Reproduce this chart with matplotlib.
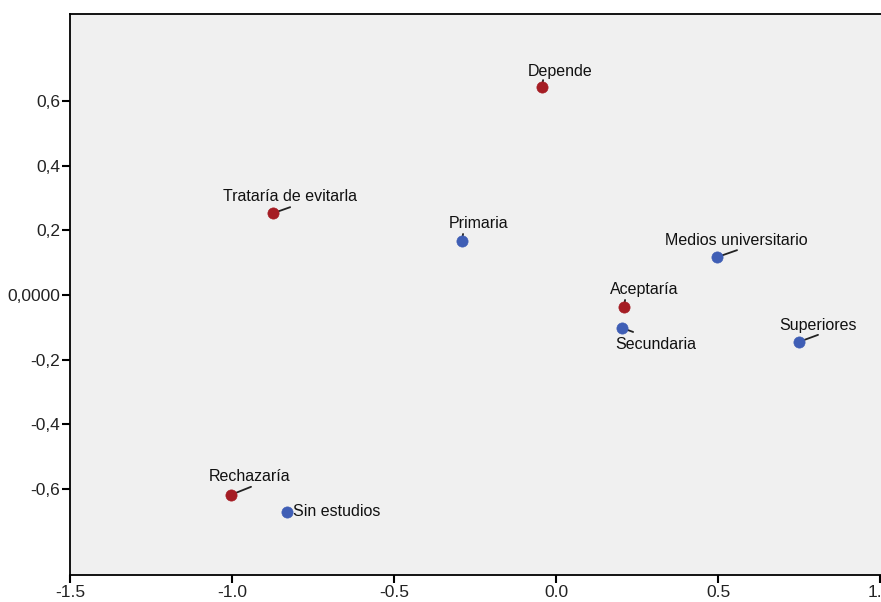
import matplotlib
matplotlib.use("Agg")
import matplotlib.pyplot as plt

plt.rcParams['font.family'] = ['Liberation Sans', 'DejaVu Sans']

# row points (actitud) - red
row_labels = ['Depende', 'Trataría de evitarla', 'Aceptaría', 'Rechazaría']
row_x = [-0.043, -0.873, 0.210, -1.003]
row_y = [0.643, 0.253, -0.037, -0.618]

# column points (estudios) - blue
col_labels = ['Primaria', 'Medios universitario', 'Secundaria', 'Superiores', 'Sin estudios']
col_x = [-0.290, 0.497, 0.204, 0.750, -0.830]
col_y = [0.167, 0.117, -0.102, -0.145, -0.671]

xticks = [-1.5, -1.0, -0.5, 0.0, 0.5, 1.0]
xticklabels = ['-1.5', '-1.0', '-0.5', '0.0', '0.5', '1.0']
yticks = [0.6, 0.4, 0.2, 0.0, -0.2, -0.4, -0.6]
yticklabels = ['0,6', '0,4', '0,2', '0,0000', '-0,2', '-0,4', '-0,6']

# label placement in pixels: text offset (center), leader end offset
place = {
    'Depende': ((18, 16, 'center'), (1, 7)),
    'Trataría de evitarla': ((17, 17, 'center'), (17, 6)),
    'Aceptaría': ((20, 17, 'center'), (1, 7)),
    'Rechazaría': ((19, 18, 'center'), (20, 8)),
    'Primaria': ((17, 17, 'center'), (1, 7)),
    'Medios universitario': ((19, 17, 'center'), (20, 7)),
    'Secundaria': ((34, -17, 'center'), (11, -4)),
    'Superiores': ((19, 16, 'center'), (19, 7)),
    'Sin estudios': ((6, 0, 'left'), None),
}

fig = plt.figure(figsize=(8.81, 6.02), dpi=100)
ax = fig.add_axes([70 / 881, 1 - 575 / 602, 1 - 70 / 881, (575 - 14) / 602])
ax.set_facecolor('#f0f0f0')

red = '#a51d24'
blue = '#3f5eb5'


def draw(xs, ys, labels, color):
    for x, y, lab in zip(xs, ys, labels):
        (tdx, tdy, ha), lead = place[lab]
        if lead is not None:
            ax.annotate('', xy=(x, y), xytext=lead, textcoords='offset pixels',
                        arrowprops=dict(arrowstyle='-', lw=1.3, color='#222222',
                                        shrinkA=0, shrinkB=0), zorder=2)
        ax.annotate(lab, xy=(x, y), xytext=(tdx, tdy), textcoords='offset pixels',
                    ha=ha, va='center', fontsize=11.5, color='#111111', zorder=4)
    ax.scatter(xs, ys, s=65, color=color, edgecolors=color, linewidths=0.5, zorder=3)


draw(row_x, row_y, row_labels, red)
draw(col_x, col_y, col_labels, blue)

ax.set_xlim(-1.5, 1.003)
ax.set_ylim(-0.866, 0.869)
ax.set_xticks(xticks)
ax.set_xticklabels(xticklabels)
ax.set_yticks(yticks)
ax.set_yticklabels(yticklabels)
ax.tick_params(direction='out', length=6, width=1.5, labelsize=12.5,
               colors='black', labelcolor='#222222', pad=1)
for s in ['left', 'bottom', 'top']:
    ax.spines[s].set_linewidth(1.3)
ax.spines['right'].set_visible(False)

fig.savefig('out.png', dpi=100)
